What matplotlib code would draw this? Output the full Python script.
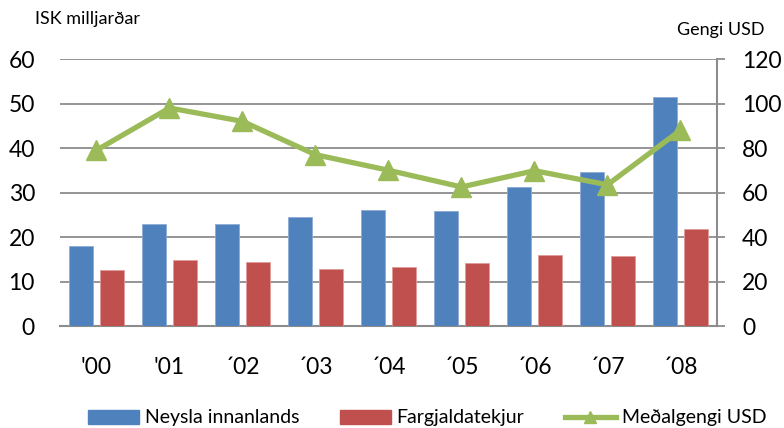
import matplotlib
matplotlib.use("Agg")
import matplotlib.pyplot as plt
from matplotlib.lines import Line2D
from matplotlib.patches import Patch
import numpy as np

plt.rcParams['font.family'] = ['Lato', 'DejaVu Sans']

years = ["'00", "'01", "\u00b402", "\u00b403", "\u00b404", "\u00b405", "\u00b406", "\u00b407", "\u00b408"]
neysla = [18.0, 23.0, 22.9, 24.6, 26.1, 25.8, 31.2, 34.7, 51.5]
fargjald = [12.6, 14.9, 14.4, 12.8, 13.3, 14.1, 16.0, 15.8, 21.8]
gengi = [79, 98, 92, 77, 70, 62.5, 69.8, 63.5, 88]

blue = '#4F81BD'
red = '#C0504D'
green = '#9BBB59'
grid = '#8C8C8C'

fig = plt.figure(figsize=(7.84, 4.28), dpi=100)
ax = fig.add_axes([0.0765, 0.2383, 0.838, 0.6238])
x = np.arange(len(years))
w = 0.333
ax.bar(x - 0.21, neysla, w, color=blue, edgecolor='#8EABD6', linewidth=0.6, zorder=3)
ax.bar(x + 0.215, fargjald, w, color=red, edgecolor='#DE9A98', linewidth=0.6, zorder=3)
ax.set_xlim(-0.5, len(years) - 0.5)
ax.set_ylim(0, 60)
ax.set_yticks(range(0, 61, 10))
ax.yaxis.grid(True, color=grid, linewidth=1.3, zorder=0)
ax.set_axisbelow(True)
for s in ['left', 'top', 'right']:
    ax.spines[s].set_visible(False)
ax.spines['bottom'].set_color(grid)
ax.spines['bottom'].set_linewidth(1.5)
ax.tick_params(axis='y', length=0, pad=18, labelsize=16.5)
ax.tick_params(axis='x', length=0, pad=22, labelsize=16.5)
ax.set_xticks(x)
ax.set_xticklabels(years)

ax2 = ax.twinx()
ax2.plot(x, gengi, color=green, linewidth=3.8, marker='^', markersize=14, zorder=5)
ax2.set_ylim(0, 120)
ax2.set_yticks(range(0, 121, 20))
for s in ['left', 'top', 'bottom']:
    ax2.spines[s].set_visible(False)
ax2.spines['right'].set_color(grid)
ax2.spines['right'].set_linewidth(1.5)
ax2.tick_params(axis='y', length=6, width=1.3, color=grid, pad=12, labelsize=16.5)

fig.text(35/784, 1 - 19/428, 'ISK milljar\u00f0ar', fontsize=13, va='center', ha='left')
fig.text(677/784, 1 - 30/428, 'Gengi USD', fontsize=13, va='center', ha='left')

handles = [Patch(color=blue), Patch(color=red),
           Line2D([0], [0], color=green, linewidth=3.8, marker='^', markersize=9)]
labels = ['Neysla innanlands', 'Fargjaldatekjur', 'Me\u00f0algengi USD']
fig.legend(handles, labels, loc='center', bbox_to_anchor=(0.545, 1 - 418/428), ncol=3,
           frameon=False, fontsize=14, handlelength=2.6, handletextpad=0.3, columnspacing=2.1,
           borderpad=0)

fig.savefig('out.png', dpi=100)
